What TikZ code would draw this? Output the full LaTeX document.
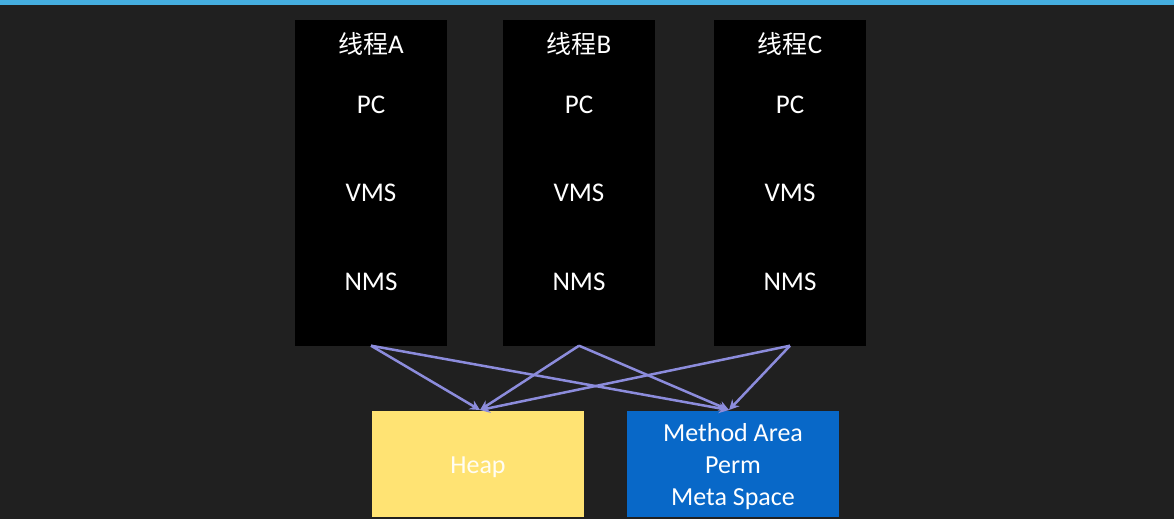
\documentclass[tikz,border=0pt]{standalone}
\usepackage{fontspec}
\setmainfont{Carlito}
\newfontfamily\cjk{Noto Sans CJK SC}
\usetikzlibrary{arrows.meta}
\definecolor{board}{HTML}{202020}
\definecolor{strip}{HTML}{45AEDF}
\definecolor{arrowc}{HTML}{8C8CDC}
\definecolor{heapc}{HTML}{FFE373}
\definecolor{methc}{HTML}{0868C8}
\begin{document}
\begin{tikzpicture}[x=1pt,y=-1pt,
  col/.style={fill=black,draw=none,minimum width=152pt,minimum height=325pt,inner sep=0pt},
  lbl/.style={text=white,font=\fontsize{27}{30}\selectfont,inner sep=0pt},
  box/.style={draw=none,minimum width=212pt,minimum height=106pt,inner sep=0pt},
  boxtxt/.style={align=center,inner sep=0pt,font=\fontsize{26}{32}\selectfont},
  link/.style={draw=arrowc,line width=2.5pt,-{Stealth[length=10pt,width=10pt]}}]
\fill[board] (0,0) rectangle (1174,519);
\useasboundingbox (0,0) rectangle (1174,519);
\fill[strip] (0,0) rectangle (1174,5);
\foreach \n/\x/\t in {A/371/A,B/579/B,C/790/C}{
  \node[col] (col\n) at (\x,183) {};
  \node[lbl] (t\n) at (\x,44) {{\cjk\fontsize{25}{30}\selectfont 线程}\t};
  \node[lbl] (pc\n) at (\x,105) {PC};
  \node[lbl] (vms\n) at (\x,193) {VMS};
  \node[lbl] (nms\n) at (\x,282) {NMS};
}
\node[box,fill=heapc] (heap) at (478,464) {};
\node[boxtxt,text=white!92!heapc] (heapt) at (478,467) {Heap};
\node[box,fill=methc] (meth) at (733,464) {};
\node[boxtxt,text=white] (metht) at (733,467) {Method Area\\Perm\\Meta Space};
\coordinate (hin) at (480,410);
\coordinate (min) at (729,410);
\foreach \n in {A,B,C}{
  \draw[link] (col\n.south) -- (hin);
  \draw[link] (col\n.south) -- (min);
}
\end{tikzpicture}
\end{document}
